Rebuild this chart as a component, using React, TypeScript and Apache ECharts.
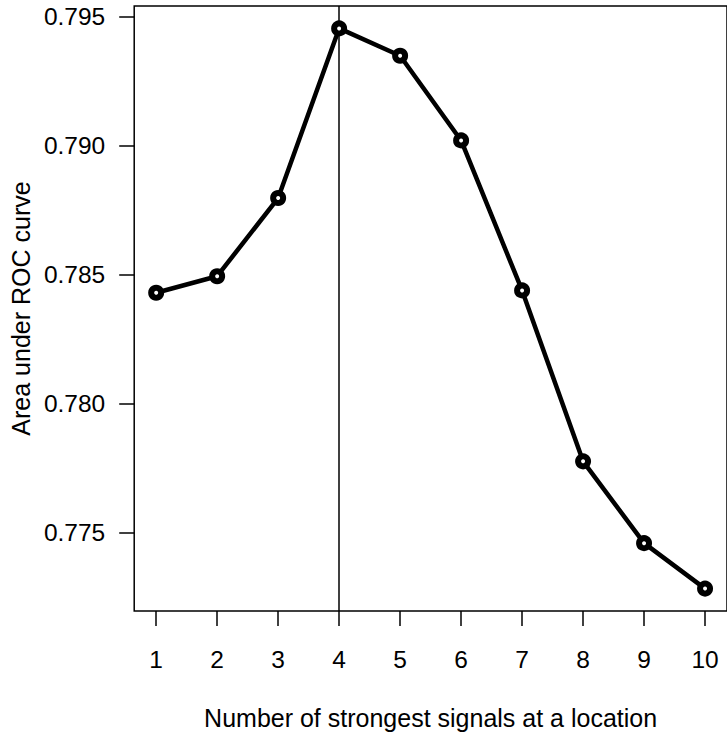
import React, { useEffect, useRef } from "react";
import * as echarts from "echarts";

const signalCounts = [1, 2, 3, 4, 5, 6, 7, 8, 9, 10];
const aucValues = [0.78429, 0.78493, 0.78796, 0.79453, 0.79347, 0.79019, 0.78438, 0.77776, 0.77459, 0.77283];
const yTicks = [0.775, 0.78, 0.785, 0.79, 0.795];
const xTicks = [1, 2, 3, 4, 5, 6, 7, 8, 9, 10];
const markedX = 4;
const xTitle = "Number of strongest signals at a location";
const yTitle = "Area under ROC curve";

const FONT = "'Liberation Sans', Arial, Helvetica, sans-serif";

export default function App() {
  const ref = useRef<HTMLDivElement>(null);
  useEffect(() => {
    if (!ref.current) return;
    const chart = echarts.init(ref.current, undefined, { renderer: "svg" });
    const xMin = Math.min(...signalCounts);
    const xMax = Math.max(...signalCounts);
    const xPad = (xMax - xMin) * 0.04;
    const yMin = Math.min(...aucValues);
    const yMax = Math.max(...aucValues);
    const yPad = (yMax - yMin) * 0.04;
    chart.setOption({
      animation: false,
      backgroundColor: "#ffffff",
      grid: {
        left: 126,
        top: 6,
        width: 605,
        height: 605,
        show: true,
        borderColor: "#000",
        borderWidth: 1.5,
        backgroundColor: "transparent",
      },
      xAxis: {
        type: "value",
        min: xMin - xPad,
        max: xMax + xPad,
        name: xTitle,
        nameLocation: "middle",
        nameGap: 94,
        nameTextStyle: { fontFamily: FONT, fontSize: 25, color: "#000" },
        axisLine: { show: false },
        splitLine: { show: false },
        axisTick: {
          show: true,
          inside: false,
          length: 15,
          customValues: xTicks,
          lineStyle: { color: "#000", width: 1.5 },
        },
        axisLabel: {
          show: true,
          margin: 36,
          customValues: xTicks,
          fontFamily: FONT,
          fontSize: 24.5,
          color: "#000",
        },
      },
      yAxis: {
        type: "value",
        min: yMin - yPad,
        max: yMax + yPad,
        name: yTitle,
        nameLocation: "middle",
        nameGap: 90,
        nameRotate: 90,
        nameTextStyle: { fontFamily: FONT, fontSize: 25, color: "#000" },
        axisLine: { show: false },
        splitLine: { show: false },
        axisTick: {
          show: true,
          inside: false,
          length: 15,
          customValues: yTicks,
          lineStyle: { color: "#000", width: 1.5 },
        },
        axisLabel: {
          show: true,
          margin: 29,
          customValues: yTicks,
          fontFamily: FONT,
          fontSize: 24.5,
          color: "#000",
          formatter: (v: number) => v.toFixed(3),
        },
      },
      series: [
        {
          type: "line",
          data: signalCounts.map((x, i) => [x, aucValues[i]]),
          symbol: "circle",
          symbolSize: 10,
          showSymbol: true,
          lineStyle: { color: "#000", width: 4.5 },
          itemStyle: { color: "#fff", borderColor: "#000", borderWidth: 6 },
          z: 3,
          markLine: {
            silent: true,
            symbol: ["none", "none"],
            label: { show: false },
            lineStyle: { color: "#000", width: 1.5, type: "solid" },
            data: [{ xAxis: markedX }],
            z: 2,
          },
        },
      ],
    });
    return () => chart.dispose();
  }, []);
  return (
    <div
      ref={ref}
      style={{ position: "absolute", left: 0, top: 0, width: 727, height: 736 }}
    />
  );
}
